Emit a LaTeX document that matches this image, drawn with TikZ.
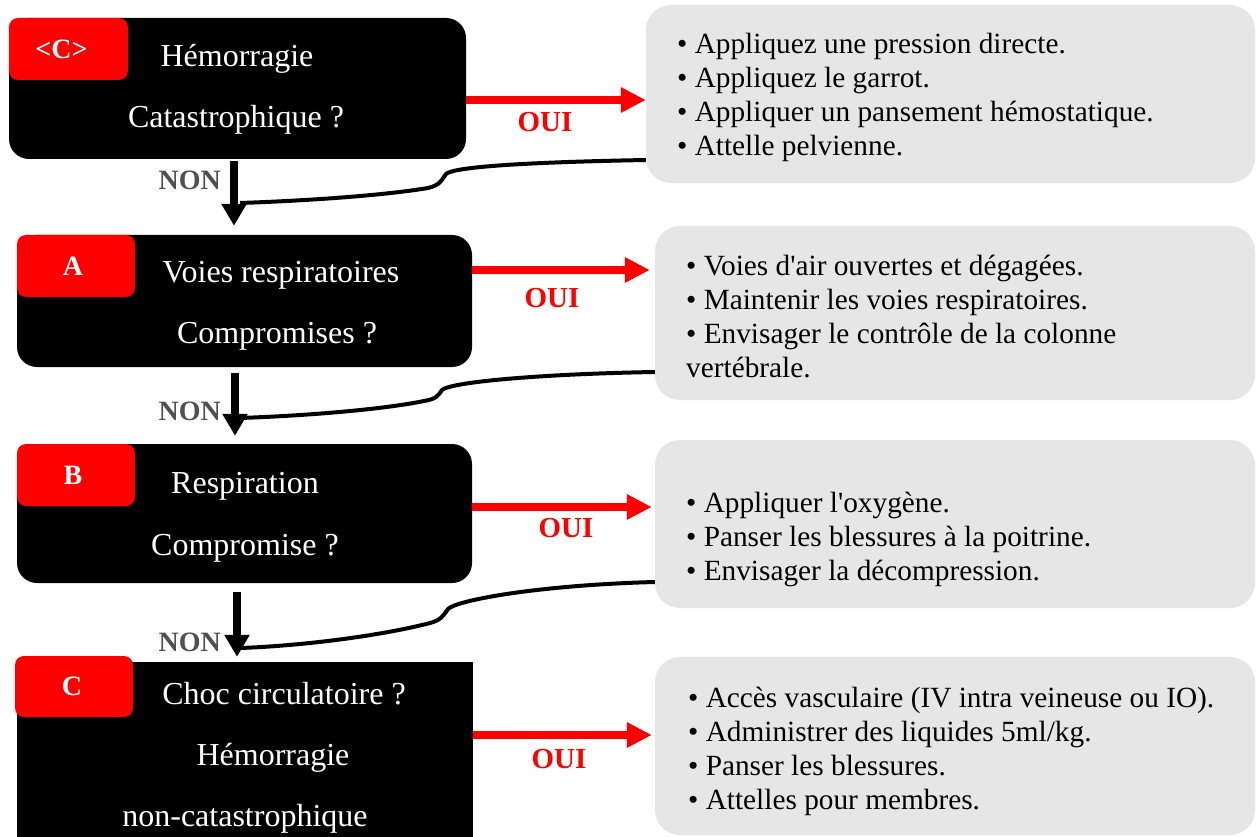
\documentclass[tikz,border=0pt]{standalone}
\usepackage{fontspec}
\setmainfont{Liberation Serif}
\usetikzlibrary{arrows.meta}
\definecolor{panelgray}{RGB}{230,230,230}
\definecolor{alertred}{RGB}{255,0,0}
\definecolor{nongray}{RGB}{80,80,80}

\begin{document}
\begin{tikzpicture}[x=1pt,y=-1pt,
  qbox/.style={fill=black, rounded corners=20pt, inner sep=0pt},
  tab/.style={fill=alertred, rounded corners=9pt, inner sep=0pt,
    minimum width=118pt, minimum height=62pt, text=white,
    font=\fontsize{28}{34}\selectfont\bfseries},
  qtext/.style={text=white, anchor=base, inner sep=0pt,
    font=\fontsize{32}{38}\selectfont},
  panel/.style={fill=panelgray, rounded corners=25pt, inner sep=0pt},
  ptext/.style={anchor=north west, inner sep=0pt, align=left,
    font=\fontsize{29.3}{34}\selectfont},
  yesarrow/.style={draw=alertred, line width=8pt, -{Triangle[length=25pt,width=24pt]}},
  noarrow/.style={draw=black, line width=8pt, -{Triangle[length=22pt,width=24pt]}},
  yeslabel/.style={text=alertred, anchor=base, inner sep=0pt,
    font=\fontsize{29}{34}\selectfont\bfseries},
  nolabel/.style={text=nongray, anchor=base east, inner sep=0pt,
    font=\fontsize{28}{34}\selectfont\bfseries},
  link/.style={draw=black, line width=4pt},
]
\useasboundingbox (0,0) rectangle (1256,837);

% ---- question boxes (left column)
\node[qbox, minimum width=457pt, minimum height=141pt] (b1) at (237.5,88.5) {};
\node[tab, minimum width=119pt] (t1) at (68.5,49) {<C>\hspace*{14pt}};
\node[qtext] (b1a) at (237,67) {Hémorragie};
\node[qtext] (b1b) at (236,128) {Catastrophique ?};

\node[qbox, minimum width=455pt, minimum height=132pt] (b2) at (244.5,301) {};
\node[tab] (t2) at (76,266) {A\hspace*{6pt}};
\node[qtext] (b2a) at (281,283) {Voies respiratoires};
\node[qtext] (b2b) at (277,343) {Compromises ?};

\node[qbox, minimum width=455pt, minimum height=139pt] (b3) at (244.5,513.5) {};
\node[tab] (t3) at (76,475) {B\hspace*{6pt}};
\node[qtext] (b3a) at (245,493) {Respiration};
\node[qtext] (b3b) at (245,555) {Compromise ?};

\node[fill=black, inner sep=0pt, minimum width=456pt, minimum height=183pt] (b4) at (245,753.5) {};
\node[tab, minimum height=61pt] (t4) at (74,686.5) {C\hspace*{4pt}};
\node[qtext] (b4a) at (284,704) {Choc circulatoire ?};
\node[qtext] (b4b) at (273,765) {Hémorragie};
\node[qtext] (b4c) at (245,826) {non-catastrophique};

% ---- action panels (right column)
\node[panel, minimum width=609pt, minimum height=178pt] (g1) at (950.5,94) {};
\node[ptext] (g1t) at (677,33) {• Appliquez une pression directe.\\• Appliquez le garrot.\\• Appliquer un pansement hémostatique.\\• Attelle pelvienne.};

\node[panel, minimum width=600pt, minimum height=174pt] (g2) at (955,313) {};
\node[ptext] (g2t) at (686,255) {• Voies d\textquotesingle air ouvertes et dégagées.\\• Maintenir les voies respiratoires.\\• Envisager le contrôle de la colonne\\vertébrale.};

\node[panel, minimum width=600pt, minimum height=168pt] (g3) at (955,524) {};
\node[ptext] (g3t) at (686,492) {• Appliquer l\textquotesingle oxygène.\\• Panser les blessures à la poitrine.\\• Envisager la décompression.};

\node[panel, minimum width=600pt, minimum height=178pt] (g4) at (955,746) {};
\node[ptext] (g4t) at (688,687) {• Accès vasculaire (IV intra veineuse ou IO).\\• Administrer des liquides 5ml/kg.\\• Panser les blessures.\\• Attelles pour membres.};

% ---- OUI arrows
\draw[yesarrow] ([yshift=-11.5pt]b1.east) -- ([yshift=-6pt]g1.west);
\draw[yesarrow, shorten >=5pt] ([yshift=31pt]b2.east) -- ([yshift=43pt]g2.west);
\draw[yesarrow, shorten >=3pt] ([yshift=6.5pt]b3.east) -- ([yshift=17pt]g3.west);
\draw[yesarrow, shorten >=3pt] ([yshift=18.5pt]b4.east) -- ([yshift=11pt]g4.west);
\node[yeslabel] (oui1) at (545,132) {OUI};
\node[yeslabel] (oui2) at (552,307) {OUI};
\node[yeslabel] (oui3) at (566,537) {OUI};
\node[yeslabel] (oui4) at (559,768) {OUI};

% ---- NON arrows
\draw[noarrow] ([xshift=-3.5pt,yshift=-2pt]b1.south) -- ([xshift=-10.5pt,yshift=9pt]b2.north);
\draw[noarrow] ([xshift=-9.5pt,yshift=-6pt]b2.south) -- ([xshift=-9.5pt,yshift=8pt]b3.north);
\draw[noarrow] ([xshift=-7.5pt,yshift=-9pt]b3.south) -- ([xshift=-8pt,yshift=5pt]b4.north);
\node[nolabel] (non1) at (221,190) {NON};
\node[nolabel] (non2) at (221,420) {NON};
\node[nolabel] (non3) at (221,651) {NON};

% ---- return links from each panel back to the next question
\coordinate (m1) at (240,203);
\coordinate (m2) at (240,418);
\coordinate (m3) at (240,648);
\draw[link] ([yshift=-66pt]g1.west) .. controls (540,162) and (455,166) .. (446,174)
  .. controls (441,181) and (440,185) .. (428,188)
  .. controls (380,196) and (300,201) .. (m1);
\draw[link] ([yshift=-59pt]g2.west) .. controls (540,374) and (451,382) .. (442,390)
  .. controls (438,396) and (436,399) .. (424,401)
  .. controls (380,410) and (300,416) .. (m2);
\draw[link] ([yshift=-58pt]g3.west) .. controls (540,585) and (457,600) .. (448,609)
  .. controls (443,616) and (441,620) .. (430,623)
  .. controls (380,636) and (300,646) .. (m3);
\end{tikzpicture}
\end{document}
